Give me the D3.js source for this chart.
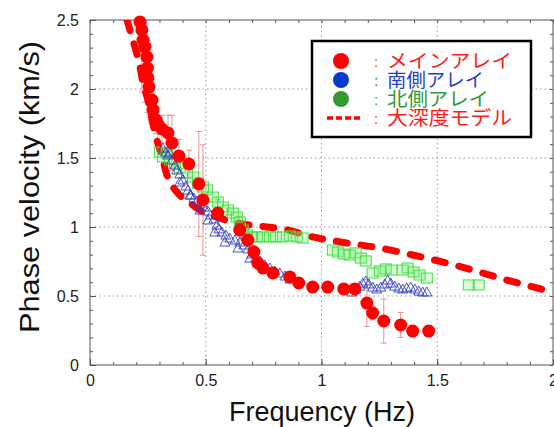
<!DOCTYPE html>
<html>
<head>
<meta charset="utf-8">
<script src="https://cdn.jsdelivr.net/npm/d3@7"></script>
<style>
  body { margin: 0; background: #fff; }
  svg { display: block; font-family: "Liberation Sans", Arial, sans-serif; }
</style>
</head>
<body>
<svg id="chart" width="554" height="427"></svg>
<script>
// main array (red circles) : frequency, phase velocity, error
const mainF = [0.216, 0.224, 0.229, 0.237, 0.246, 0.248, 0.250, 0.255, 0.268, 0.272, 0.285, 0.293,
  0.311, 0.337, 0.354, 0.384, 0.427, 0.470, 0.488, 0.552, 0.647, 0.682, 0.708, 0.725, 0.747,
  0.790, 0.863, 0.902, 0.962, 1.027, 1.096, 1.144, 1.196, 1.221, 1.269, 1.342, 1.394, 1.463];
const mainV = [2.486, 2.428, 2.355, 2.304, 2.232, 2.152, 2.080, 2.014, 1.920, 1.848, 1.775, 1.746,
  1.710, 1.681, 1.609, 1.514, 1.457, 1.312, 1.196, 1.101, 0.978, 0.906, 0.819, 0.739, 0.703,
  0.667, 0.638, 0.594, 0.565, 0.565, 0.551, 0.551, 0.449, 0.377, 0.319, 0.290, 0.246, 0.246];
const mainErr = [0.25, 0.45, 0.3, 0.4, 0.3, 0.2, 0.25, 0.2, 0.15, 0.1, 0.1, 0.12,
  0.1, 0.13, 0.2, 0.12, 0.1, 0.38, 0.4, 0.1, 0.1, 0.05, 0.05, 0.04, 0.04,
  0.03, 0.03, 0.03, 0.03, 0.03, 0.03, 0.03, 0.17, 0.05, 0.16, 0.09, 0.03, 0.03];

// south array (blue triangles)
const southF = [0.315, 0.328, 0.337, 0.345, 0.354, 0.367, 0.375, 0.388, 0.401, 0.414, 0.423, 0.436,
  0.449, 0.462, 0.475, 0.492, 0.509, 0.522, 0.535, 0.548, 0.557, 0.570, 0.587, 0.604, 0.626,
  0.647, 0.665, 0.682, 0.699, 0.716, 0.734, 0.755, 0.777, 0.798, 0.820, 0.842, 0.863,
  0.388, 0.432, 0.475, 0.509, 0.539, 0.583, 0.639, 0.691,
  1.131, 1.148, 1.165, 1.178, 1.191, 1.204, 1.221, 1.239, 1.256, 1.273, 1.286, 1.299, 1.316,
  1.334, 1.351, 1.368, 1.385, 1.403, 1.420, 1.437, 1.455];
const southV = [1.572, 1.543, 1.522, 1.536, 1.486, 1.449, 1.413, 1.384, 1.341, 1.297, 1.268, 1.232,
  1.210, 1.188, 1.167, 1.145, 1.116, 1.087, 1.058, 1.014, 0.986, 0.964, 0.942, 0.920, 0.906,
  0.891, 0.870, 0.841, 0.804, 0.775, 0.754, 0.725, 0.703, 0.681, 0.667, 0.645, 0.623,
  1.326, 1.232, 1.123, 1.051, 0.964, 0.891, 0.848, 0.775,
  0.529, 0.551, 0.572, 0.594, 0.609, 0.587, 0.565, 0.551, 0.565, 0.587, 0.616, 0.594, 0.572,
  0.558, 0.551, 0.558, 0.565, 0.551, 0.536, 0.529, 0.529];

// north array (green squares)
const northF = [0.302, 0.315, 0.332, 0.345, 0.367, 0.388, 0.419, 0.445, 0.466, 0.488, 0.505, 0.531,
  0.552, 0.574, 0.596, 0.617, 0.634, 0.647, 0.660, 0.678, 0.695, 0.721, 0.747, 0.777, 0.803,
  0.833, 0.863, 0.893, 0.919, 1.049, 1.070, 1.096, 1.122, 1.148, 1.170, 1.191,
  1.221, 1.252, 1.277, 1.303, 1.351, 1.372, 1.398, 1.424, 1.455, 1.636, 1.679];
const northV = [1.543, 1.507, 1.536, 1.486, 1.464, 1.428, 1.391, 1.362, 1.319, 1.290, 1.268, 1.217,
  1.181, 1.145, 1.123, 1.101, 1.072, 1.036, 0.978, 0.942, 0.928, 0.928, 0.928, 0.928, 0.928,
  0.928, 0.935, 0.928, 0.920, 0.833, 0.819, 0.804, 0.797, 0.812, 0.775, 0.754,
  0.667, 0.681, 0.696, 0.688, 0.688, 0.703, 0.674, 0.652, 0.630, 0.580, 0.580];

// deep structure model (red dashed)
const modelF = [0.160, 0.181, 0.194, 0.216, 0.229, 0.250, 0.268, 0.289, 0.311, 0.332, 0.375, 0.432,
  0.488, 0.548, 0.617, 0.691, 0.764, 0.833, 0.962, 1.109, 1.252, 1.394, 1.524, 1.653, 1.800, 1.899, 2.0];
const modelV = [2.50, 2.377, 2.304, 2.159, 2.043, 1.920, 1.775, 1.630, 1.507, 1.377, 1.254, 1.174,
  1.109, 1.072, 1.036, 1.014, 1.000, 0.986, 0.928, 0.884, 0.848, 0.797, 0.746, 0.688, 0.616, 0.572, 0.529];

const xTicks = [0, 0.5, 1, 1.5, 2];
const yTicks = [0, 0.5, 1, 1.5, 2, 2.5];
const xTickLabels = ["0", "0.5", "1", "1.5", "2"];
const yTickLabels = ["0", "0.5", "1", "1.5", "2", "2.5"];

const legendLabels = ["メインアレイ", "南側アレイ", "北側アレイ", "大深度モデル"];

const width = 554, height = 427;
const margin = { top: 20, right: 1, bottom: 62, left: 90 };

const svg = d3.select("#chart");

const x = d3.scaleLinear().domain([0, 2]).range([margin.left, width - margin.right]);
const y = d3.scaleLinear().domain([0, 2.5]).range([height - margin.bottom, margin.top]);

const minorX = d3.range(0, 2.001, 0.1);
const minorY = d3.range(0, 2.501, 0.1);

// grid
svg.append("g")
  .selectAll("line.gx")
  .data(xTicks.slice(1, -1))
  .join("line")
  .attr("x1", d => x(d)).attr("x2", d => x(d))
  .attr("y1", y(0)).attr("y2", y(2.5))
  .attr("stroke", "#999").attr("stroke-dasharray", "1.5,3");
svg.append("g")
  .selectAll("line.gy")
  .data(yTicks.slice(1, -1))
  .join("line")
  .attr("x1", x(0)).attr("x2", x(2))
  .attr("y1", d => y(d)).attr("y2", d => y(d))
  .attr("stroke", "#999").attr("stroke-dasharray", "1.5,3");

// axes
function styleAxis(g) {
  g.select(".domain").remove();
  g.selectAll(".tick line").attr("stroke", "#555");
  g.selectAll("text").attr("fill", "#222").style("font-size", "16px");
}
const bottom = height - margin.bottom, right = width - margin.right;

svg.append("g").attr("transform", `translate(0,${bottom})`)
  .call(d3.axisBottom(x).tickValues(minorX).tickSize(-3).tickFormat(""))
  .call(styleAxis);
svg.append("g").attr("transform", `translate(0,${bottom})`)
  .call(d3.axisBottom(x).tickValues(xTicks).tickSize(-6).tickPadding(10)
    .tickFormat((d, i) => xTickLabels[i]))
  .call(styleAxis);
svg.append("g").attr("transform", `translate(0,${margin.top})`)
  .call(d3.axisTop(x).tickValues(minorX).tickSize(-3).tickFormat(""))
  .call(styleAxis);
svg.append("g").attr("transform", `translate(${margin.left},0)`)
  .call(d3.axisLeft(y).tickValues(minorY).tickSize(-3).tickFormat(""))
  .call(styleAxis);
svg.append("g").attr("transform", `translate(${margin.left},0)`)
  .call(d3.axisLeft(y).tickValues(yTicks).tickSize(-6).tickPadding(11)
    .tickFormat((d, i) => yTickLabels[i]))
  .call(styleAxis);
svg.append("g").attr("transform", `translate(${right},0)`)
  .call(d3.axisRight(y).tickValues(minorY).tickSize(-3).tickFormat(""))
  .call(styleAxis);

// frame
svg.append("rect")
  .attr("x", x(0)).attr("y", y(2.5))
  .attr("width", x(2) - x(0)).attr("height", y(0) - y(2.5))
  .attr("fill", "none").attr("stroke", "#555").attr("stroke-width", 1);

svg.append("clipPath").attr("id", "plot")
  .append("rect")
  .attr("x", x(0)).attr("y", y(2.5))
  .attr("width", x(2) - x(0)).attr("height", y(0) - y(2.5));

const mainData = mainF.map((f, i) => ({ f, v: mainV[i], e: mainErr[i] }));
const southData = southF.map((f, i) => ({ f, v: southV[i] }));
const northData = northF.map((f, i) => ({ f, v: northV[i] }));
const modelData = modelF.map((f, i) => ({ f, v: modelV[i] }));

const plot = svg.append("g").attr("clip-path", "url(#plot)");

// error bars
const eb = plot.append("g").attr("stroke", "#e07070").attr("stroke-opacity", 0.75).attr("stroke-width", 1);
eb.selectAll("line.bar").data(mainData).join("line")
  .attr("x1", d => x(d.f)).attr("x2", d => x(d.f))
  .attr("y1", d => y(d.v + d.e)).attr("y2", d => y(d.v - d.e));
eb.selectAll("line.capT").data(mainData).join("line")
  .attr("x1", d => x(d.f) - 3).attr("x2", d => x(d.f) + 3)
  .attr("y1", d => y(d.v + d.e)).attr("y2", d => y(d.v + d.e));
eb.selectAll("line.capB").data(mainData).join("line")
  .attr("x1", d => x(d.f) - 3).attr("x2", d => x(d.f) + 3)
  .attr("y1", d => y(d.v - d.e)).attr("y2", d => y(d.v - d.e));

// north array squares
svg.append("g").selectAll("rect").data(northData).join("rect")
  .attr("x", d => x(d.f) - 5.5).attr("y", d => y(d.v) - 5)
  .attr("width", 11).attr("height", 10)
  .attr("fill", "#66ee66").attr("fill-opacity", 0.25)
  .attr("stroke", "#44dd44").attr("stroke-width", 1);

// south array triangles
svg.append("g").selectAll("path").data(southData).join("path")
  .attr("d", d => {
    const cx = x(d.f), cy = y(d.v);
    return `M${cx},${cy - 5}L${cx + 5},${cy + 4}L${cx - 5},${cy + 4}Z`;
  })
  .attr("fill", "none").attr("stroke", "#3340c0").attr("stroke-width", 0.9);

// main array circles
svg.append("g").selectAll("circle").data(mainData).join("circle")
  .attr("cx", d => x(d.f)).attr("cy", d => y(d.v)).attr("r", 6.5)
  .attr("fill", "#ff0000");

// model
plot.append("path").datum(modelData)
  .attr("d", d3.line().x(d => x(d.f)).y(d => y(d.v)).curve(d3.curveMonotoneX))
  .attr("fill", "none").attr("stroke", "#ff0000").attr("stroke-width", 7)
  .attr("stroke-linecap", "round").attr("stroke-dasharray", "11,14");

// legend
const lg = svg.append("g");
lg.append("rect").attr("x", 312).attr("y", 41).attr("width", 219).attr("height", 96)
  .attr("fill", "#fff").attr("stroke", "#000").attr("stroke-width", 2.5);
const legendColors = ["#ff1a1a", "#1f3fcc", "#33993a", "#ff1a1a"];
const symColors = ["#ff0000", "#0a3acc", "#339933"];
const legendWidths = [125, 97, 102, 125];
symColors.forEach((c, i) => {
  lg.append("circle").attr("cx", 341).attr("cy", 61 + i * 19).attr("r", 8).attr("fill", c);
});
lg.append("line").attr("x1", 327).attr("x2", 361).attr("y1", 118).attr("y2", 118)
  .attr("stroke", "#ff0000").attr("stroke-width", 3.5).attr("stroke-dasharray", "6,3");
legendLabels.forEach((t, i) => {
  lg.append("text").attr("x", 374).attr("y", 67 + i * 19)
    .attr("fill", legendColors[i]).style("font-size", "15px").text(":");
  lg.append("text").attr("x", 387).attr("y", 68 + i * 19)
    .attr("fill", legendColors[i])
    .style("font-family", "'Noto Sans CJK JP', sans-serif").style("font-size", "19px")
    .attr("textLength", legendWidths[i]).attr("lengthAdjust", "spacingAndGlyphs")
    .text(t);
});

// axis titles
svg.append("text").attr("x", 322).attr("y", 421).attr("text-anchor", "middle")
  .style("font-size", "27px").attr("fill", "#111").text("Frequency (Hz)");
svg.append("text").attr("transform", "translate(39,187) rotate(-90)").attr("text-anchor", "middle")
  .style("font-size", "28px").attr("fill", "#111")
  .attr("textLength", 292).attr("lengthAdjust", "spacingAndGlyphs")
  .text("Phase velocity (km/s)");
</script>
</body>
</html>
